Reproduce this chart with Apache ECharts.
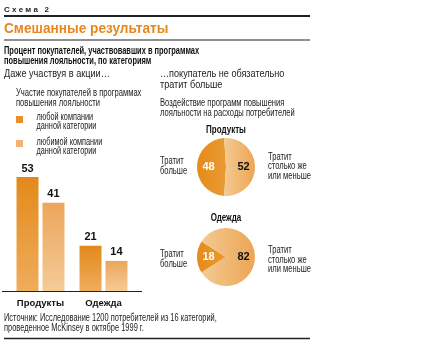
<!DOCTYPE html>
<html><head><meta charset="utf-8">
<script src="https://cdn.jsdelivr.net/npm/echarts@6/dist/echarts.min.js"></script>
<style>html,body{margin:0;padding:0;background:#fff}#c{width:440px;height:344px}</style>
</head><body><div id="c"></div>
<script>
const categories = ['Продукты', 'Одежда'];
const seriesNames = ['любой компании\nданной категории', 'любимой компании\nданной категории'];
const anyCompany = [53, 21];
const favCompany = [41, 14];
const pieTitles = ['Продукты', 'Одежда'];
const spendMore = [48, 18];
const spendSameOrLess = [52, 82];
const pieLabelMore = 'Тратит\nбольше';
const pieLabelLess = 'Тратит\nстолько же\nили меньше';

const FW = '"Liberation Sans",Arial,sans-serif';
const chart = echarts.init(document.getElementById('c'), null, {renderer:'canvas'});

const darkBar = new echarts.graphic.LinearGradient(0,0,0,1,[{offset:0,color:'#E3891B'},{offset:1,color:'#EFAD5C'}]);
const lightBar = new echarts.graphic.LinearGradient(0,0,0,1,[{offset:0,color:'#ECA65A'},{offset:1,color:'#F5CB97'}]);
const darkPie = new echarts.graphic.LinearGradient(0,0,1,0,[{offset:0,color:'#E58C1A'},{offset:1,color:'#E99A33'}]);
const lightPie = new echarts.graphic.LinearGradient(0,0,1,0,[{offset:0,color:'#F4CA93'},{offset:1,color:'#ECA553'}]);

// narrow text helper: scaled horizontally around its anchor
function txt(text, x, y, font, sx, fill, align, lh) {
  return {type:'text', x:x, y:y, scaleX:sx, silent:true,
    style:{text:text, x:0, y:0, font:font, fill:fill||'#222', textAlign:align||'left', textVerticalAlign:'middle', lineHeight:lh||10}};
}
function line(x1,y1,x2,y2,w){return {type:'line', silent:true, shape:{x1:x1,y1:y1,x2:x2,y2:y2}, style:{stroke:'#222', lineWidth:w}};}
const SMALL = '10px '+FW, SSX = 0.76;

const pieCenters = [[226,167],[226,257]];
const pieSeries = pieCenters.map((c,i)=>({
  type:'pie', center:c, radius:29, startAngle:180 + 180*spendMore[i]/100, clockwise:true,
  silent:true, animation:false,
  label:{position:'inside', formatter:'{c}', fontFamily:FW, fontWeight:'bold', fontSize:11},
  labelLine:{show:false},
  data:[
    {name:'Тратит больше', value:spendMore[i], itemStyle:{color:darkPie}, label:{color:'#fff'}},
    {name:'Тратит столько же или меньше', value:spendSameOrLess[i], itemStyle:{color:lightPie}, label:{color:'#111'}}
  ]
}));

const option = {
  backgroundColor:'#fff',
  animation:false,
  textStyle:{fontFamily:FW},
  grid:{left:9, width:126, top:162, bottom:53, containLabel:false},
  xAxis:{type:'category', data:categories, axisLine:{show:false}, axisTick:{show:false},
    axisLabel:{interval:0, margin:7, fontFamily:FW, fontWeight:'bold', fontSize:9.5, color:'#111'}},
  yAxis:{type:'value', min:0, max:60, show:false, splitLine:{show:false}},
  legend:{show:false, data:seriesNames},
  series:[
    {name:seriesNames[0], type:'bar', data:anyCompany, barWidth:22, barGap:'18%', itemStyle:{color:darkBar},
      label:{show:true, position:'top', distance:3, fontFamily:FW, fontWeight:'bold', fontSize:11, color:'#111'}},
    {name:seriesNames[1], type:'bar', data:favCompany, barWidth:22, itemStyle:{color:lightBar},
      label:{show:true, position:'top', distance:3, fontFamily:FW, fontWeight:'bold', fontSize:11, color:'#111'}}
  ].concat(pieSeries),
  graphic:[
    txt('С х е м а   2', 4, 10, 'bold 8px '+FW, 1, '#222'),
    line(4,16,310,16,2),
    txt('Смешанные результаты', 4, 29, 'bold 15px '+FW, 0.91, '#E8861C'),
    line(4,40,310,40,1.2),
    txt('Процент покупателей, участвовавших в программах', 4, 51, 'bold 10px '+FW, 0.745, '#111'),
    txt('повышения лояльности, по категориям', 4, 61, 'bold 10px '+FW, 0.745, '#111'),
    txt('Даже участвуя в акции…', 4, 74, '10.5px '+FW, 0.87, '#222'),
    txt('…покупатель не обязательно\nтратит больше', 160, 79.5, '10.5px '+FW, 0.865, '#222', 'left', 11.5),
    txt('Участие покупателей в программах\nповышения лояльности', 16, 98, SMALL, SSX, '#222', 'left', 9.5),
    {type:'rect', silent:true, shape:{x:16, y:116, width:7, height:7}, style:{fill:'#E8912A'}},
    {type:'rect', silent:true, shape:{x:16, y:140, width:7, height:7}, style:{fill:'#F0B470'}},
    txt(seriesNames[0], 36.5, 121.5, SMALL, 0.73, '#222', 'left', 8.5),
    txt(seriesNames[1], 36.5, 146.5, SMALL, 0.73, '#222', 'left', 8.5),
    txt('Воздействие программ повышения\nлояльности на расходы потребителей', 160, 108, SMALL, SSX, '#222', 'left', 10),
    txt(pieTitles[0], 226, 130, 'bold 10px '+FW, 0.8, '#111', 'center'),
    txt(pieTitles[1], 226, 218.5, 'bold 10px '+FW, 0.8, '#111', 'center'),
    txt(pieLabelMore, 160, 166, SMALL, SSX, '#222', 'left', 9.5),
    txt(pieLabelLess, 268, 166.5, SMALL, SSX, '#222', 'left', 9.5),
    txt(pieLabelMore, 160, 259, SMALL, SSX, '#222', 'left', 9.5),
    txt(pieLabelLess, 268, 260, SMALL, SSX, '#222', 'left', 9.5),
    line(2,291.5,142,291.5,1),
    txt('Источник: Исследование 1200 потребителей из 16 категорий,\nпроведенное McKinsey в октябре 1999 г.', 4, 323, SMALL, 0.745, '#222', 'left', 10.5),
    line(4,338.5,310,338.5,1.5)
  ]
};
chart.setOption(option);
</script></body></html>
